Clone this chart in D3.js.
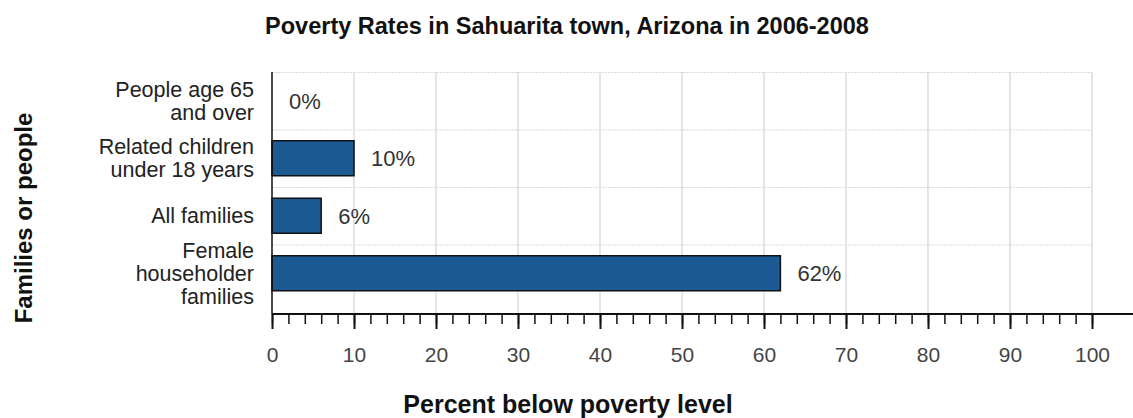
<!DOCTYPE html>
<html>
<head>
<meta charset="utf-8">
<script src="https://cdn.jsdelivr.net/npm/d3@7"></script>
<style>
  body { margin: 0; background: #fff; }
  text { font-family: Arial, "Liberation Sans", sans-serif; }
</style>
</head>
<body>
<div id="chart"></div>
<script>
// data
var categories = ["People age 65\nand over", "Related children\nunder 18 years", "All families", "Female\nhouseholder\nfamilies"];
var values = [0, 10, 6, 62];
var majorTicks = [0, 10, 20, 30, 40, 50, 60, 70, 80, 90, 100];

var chartTitle = "Poverty Rates in Sahuarita town, Arizona in 2006-2008";
var xTitle = "Percent below poverty level";
var yTitle = "Families or people";

var width = 1133, height = 418;
var plotLeft = 272, plotRight = 1092, plotTop = 72, axisY = 314;

var svg = d3.select("#chart").append("svg")
    .attr("width", width)
    .attr("height", height);

var x = d3.scaleLinear().domain([0, 100]).range([plotLeft, plotRight]);
var y = d3.scaleBand().domain(categories).range([plotTop, 302]).padding(0);
var barH = 35;

// vertical grid
svg.append("g").selectAll("line")
    .data(majorTicks.slice(1))
  .enter().append("line")
    .attr("x1", function(d) { return x(d); })
    .attr("x2", function(d) { return x(d); })
    .attr("y1", plotTop)
    .attr("y2", axisY)
    .style("stroke", "#e4e4ee")
    .style("stroke-width", 2);

// horizontal dotted grid
svg.append("g").selectAll("line")
    .data(categories)
  .enter().append("line")
    .attr("x1", plotLeft)
    .attr("x2", plotRight)
    .attr("y1", function(d) { return y(d) + 0.5; })
    .attr("y2", function(d) { return y(d) + 0.5; })
    .style("stroke", "#d8d8d8")
    .style("stroke-width", 1)
    .style("stroke-dasharray", "2,1");

// bars
svg.append("g").selectAll("rect")
    .data(values)
  .enter().append("rect")
    .attr("x", x(0))
    .attr("y", function(d, i) { return y(categories[i]) + y.bandwidth() / 2 - barH / 2; })
    .attr("width", function(d) { return x(d) - x(0); })
    .attr("height", barH)
    .style("fill", function(d) { return d > 0 ? "#1c5a94" : "none"; })
    .style("stroke", function(d) { return d > 0 ? "#111" : "none"; })
    .style("stroke-width", 1.5);

// value labels
svg.append("g").selectAll("text")
    .data(values)
  .enter().append("text")
    .attr("x", function(d) { return x(d) + 17; })
    .attr("y", function(d, i) { return y(categories[i]) + y.bandwidth() / 2; })
    .attr("dy", "0.36em")
    .style("font-size", "22px")
    .style("fill", "#333")
    .text(function(d) { return d + "%"; });

// category labels
var catLabels = svg.append("g").selectAll("text")
    .data(categories)
  .enter().append("text")
    .attr("text-anchor", "end")
    .style("font-size", "21.5px")
    .style("fill", "#222");

catLabels.each(function(d) {
    var lines = d.split("\n");
    var cy = y(d) + y.bandwidth() / 2;
    var lh = 23;
    var t = d3.select(this);
    lines.forEach(function(line, k) {
        t.append("tspan")
            .attr("x", 254)
            .attr("y", cy + (k - (lines.length - 1) / 2) * lh)
            .attr("dy", "0.36em")
            .text(line);
    });
});

// left axis line
svg.append("line")
    .attr("x1", plotLeft).attr("x2", plotLeft)
    .attr("y1", plotTop).attr("y2", axisY)
    .style("stroke", "#111")
    .style("stroke-width", 1.5);

// minor ticks
var minorAxis = svg.append("g")
    .attr("transform", "translate(0," + axisY + ")")
    .call(d3.axisBottom(x).tickValues(d3.range(0, 101, 2)).tickSize(10).tickFormat(""));
minorAxis.select(".domain").remove();
minorAxis.selectAll("line").style("stroke", "#111").style("stroke-width", 1.5);

// major ticks
var majorAxis = svg.append("g")
    .attr("transform", "translate(0," + axisY + ")")
    .call(d3.axisBottom(x).tickValues(majorTicks).tickSize(15).tickPadding(18).tickFormat(d3.format("d")));
majorAxis.select(".domain").remove();
majorAxis.selectAll("line").style("stroke", "#111").style("stroke-width", 2);
majorAxis.selectAll("text")
    .style("font-size", "21px")
    .style("font-family", "Arial, 'Liberation Sans', sans-serif")
    .style("fill", "#444");

// axis line, running to the right edge
svg.append("line")
    .attr("x1", plotLeft).attr("x2", width)
    .attr("y1", axisY).attr("y2", axisY)
    .style("stroke", "#111")
    .style("stroke-width", 2);

// titles
svg.append("text")
    .attr("x", 567)
    .attr("y", 34)
    .attr("text-anchor", "middle")
    .style("font-size", "23.5px")
    .style("font-weight", "bold")
    .style("fill", "#111")
    .text(chartTitle);

svg.append("text")
    .attr("x", 568)
    .attr("y", 413)
    .attr("text-anchor", "middle")
    .style("font-size", "25px")
    .style("font-weight", "bold")
    .style("fill", "#111")
    .text(xTitle);

svg.append("text")
    .attr("transform", "translate(32,218) rotate(-90)")
    .attr("text-anchor", "middle")
    .style("font-size", "24px")
    .style("font-weight", "bold")
    .style("fill", "#111")
    .text(yTitle);
</script>
</body>
</html>
